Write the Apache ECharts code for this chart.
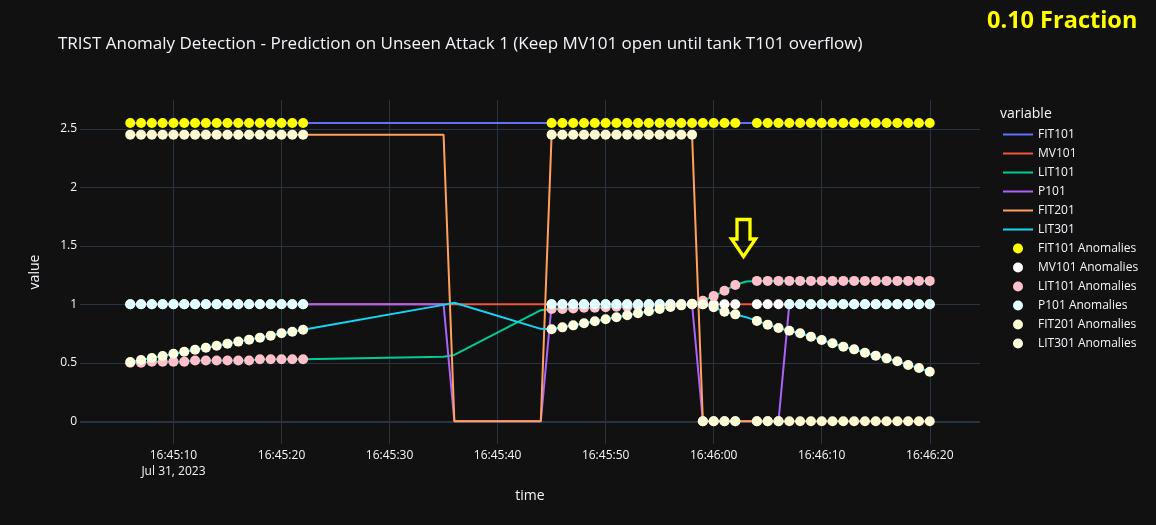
<!DOCTYPE html>
<html>
<head>
<meta charset="utf-8">
<script src="https://cdn.jsdelivr.net/npm/echarts@6/dist/echarts.min.js"></script>
<style>
html,body{margin:0;padding:0;background:#111111;}
#chart{width:1156px;height:525px;}
</style>
</head>
<body>
<div id="chart"></div>
<script>
// seconds after 16:45:00 on Jul 31, 2023
const times = [6,7,8,9,10,11,12,13,14,15,16,17,18,19,20,21,22,
  35,36,44,
  45,46,47,48,49,50,51,52,53,54,55,56,57,58,59,60,61,62,63,64,65,66,67,68,69,70,71,72,73,74,75,76,77,78,79,80];

const FIT101 = [2.55,2.55,2.55,2.55,2.55,2.55,2.55,2.55,2.55,2.55,2.55,2.55,2.55,2.55,2.55,2.55,2.55,
  2.55,2.55,2.55,
  2.55,2.55,2.55,2.55,2.55,2.55,2.55,2.55,2.55,2.55,2.55,2.55,2.55,2.55,2.55,2.55,2.55,2.55,2.55,2.55,2.55,2.55,2.55,2.55,2.55,2.55,2.55,2.55,2.55,2.55,2.55,2.55,2.55,2.55,2.55,2.55];

const MV101 = [1,1,1,1,1,1,1,1,1,1,1,1,1,1,1,1,1,
  1,1,1,
  1,1,1,1,1,1,1,1,1,1,1,1,1,1,1,1,1,1,1,1,1,1,1,1,1,1,1,1,1,1,1,1,1,1,1,1];

const LIT101 = [0.50,0.50,0.51,0.51,0.51,0.51,0.52,0.52,0.52,0.52,0.52,0.52,0.53,0.53,0.53,0.53,0.53,
  0.552,0.567,0.95,
  0.96,0.96,0.965,0.97,0.97,0.975,0.98,0.98,0.985,0.99,0.99,0.995,1.0,1.005,
  1.03,1.07,1.115,1.165,1.195,
  1.2,1.2,1.2,1.2,1.2,1.2,1.2,1.2,1.2,1.2,1.2,1.2,1.2,1.2,1.2,1.2,1.2];

const P101 = [1,1,1,1,1,1,1,1,1,1,1,1,1,1,1,1,1,
  1,0,0,
  1,1,1,1,1,1,1,1,1,1,1,1,1,1,
  0,0,0,0,0,0,0,0,
  1,1,1,1,1,1,1,1,1,1,1,1,1,1];

const FIT201 = [2.45,2.45,2.45,2.45,2.45,2.45,2.45,2.45,2.45,2.45,2.45,2.45,2.45,2.45,2.45,2.45,2.45,
  2.45,0,0,
  2.45,2.45,2.45,2.45,2.45,2.45,2.45,2.45,2.45,2.45,2.45,2.45,2.45,2.45,
  0,0,0,0,0,0,0,0,0,0,0,0,0,0,0,0,0,0,0,0,0,0];

const LIT301 = [0.507,0.524,0.541,0.558,0.578,0.595,0.612,0.629,0.646,0.663,0.681,0.698,0.715,0.732,0.752,0.766,0.783,
  0.995,1.013,0.79,
  0.786,0.803,0.82,0.838,0.855,0.872,0.889,0.906,0.923,0.94,0.96,0.977,0.991,1.003,
  1.0,0.974,0.937,0.914,0.89,
  0.858,0.826,0.797,0.774,0.752,0.723,0.695,0.667,0.638,0.615,0.586,0.561,0.538,0.513,0.481,0.456,0.424];

// times (seconds after 16:45:00) flagged as anomalies
const anomalyTimes = [6,7,8,9,10,11,12,13,14,15,16,17,18,19,20,21,22,
  45,46,47,48,49,50,51,52,53,54,55,56,57,58,59,60,61,62,
  64,65,66,67,68,69,70,71,72,73,74,75,76,77,78,79,80];

const xTickSeconds = [10,20,30,40,50,60,70,80];
const yTicks = [0,0.5,1,1.5,2,2.5];

const seriesNames = ['FIT101','MV101','LIT101','P101','FIT201','LIT301'];
const seriesValues = [FIT101,MV101,LIT101,P101,FIT201,LIT301];
const lineColors = ['#636efa','#EF553B','#00cc96','#ab63fa','#FFA15A','#19d3f3'];
const anomalyColors = ['#ffff00','#ffffff','#ffc0cb','#e0ffff','#fafad2','#ffffe0'];

const base = new Date(2023, 6, 31, 16, 45, 0).getTime();
const ts = s => base + s * 1000;

const series = [];
const legendData = [];
seriesNames.forEach((n, i) => {
  const s = {
    name: n, type: 'line', showSymbol: false, symbol: 'none',
    data: times.map((t, k) => [ts(t), seriesValues[i][k]]),
    lineStyle: {color: lineColors[i], width: 2},
    itemStyle: {color: lineColors[i]},
    z: 2
  };
  if (i === 0) {
    s.markLine = {
      silent: true, symbol: 'none', label: {show: false},
      lineStyle: {color: '#283442', width: 2, type: 'solid'},
      data: [{yAxis: 0}], z: 1
    };
  }
  series.push(s);
  legendData.push({name: n, icon: 'path://M0,0L30,0L30,2L0,2Z', itemStyle: {color: lineColors[i]}});
});
seriesNames.forEach((n, i) => {
  series.push({
    name: n + ' Anomalies', type: 'scatter', symbol: 'circle', symbolSize: 10,
    data: anomalyTimes.map(t => [ts(t), seriesValues[i][times.indexOf(t)]]),
    itemStyle: {color: anomalyColors[i], opacity: 1},
    z: 3
  });
  legendData.push({name: n + ' Anomalies', icon: 'circle'});
});

const pad = n => (n < 10 ? '0' : '') + n;
const chart = echarts.init(document.getElementById('chart'), null, {renderer: 'canvas'});
chart.setOption({
  backgroundColor: '#111111',
  animation: false,
  textStyle: {fontFamily: 'Open Sans'},
  title: {
    text: 'TRIST Anomaly Detection - Prediction on Unseen Attack 1 (Keep MV101 open until tank T101 overflow)',
    left: 58, top: 33, padding: 0,
    textStyle: {color: '#f2f5fa', fontSize: 17, fontWeight: 'normal', fontFamily: 'Open Sans', lineHeight: 22}
  },
  grid: {left: 80, right: 176, top: 100, bottom: 81, containLabel: false},
  legend: {
    orient: 'vertical', left: 1003, top: 128.5, padding: 0,
    itemWidth: 30, itemHeight: 10, itemGap: 7,
    textStyle: {color: '#f2f5fa', fontSize: 12, fontFamily: 'Open Sans'},
    data: legendData
  },
  xAxis: {
    type: 'value',
    min: ts(1.35), max: ts(84.65),
    name: 'time', nameLocation: 'middle', nameGap: 45,
    nameTextStyle: {color: '#f2f5fa', fontSize: 14, fontFamily: 'Open Sans'},
    axisLine: {show: false},
    axisTick: {show: false, customValues: xTickSeconds.map(ts)},
    axisLabel: {
      customValues: xTickSeconds.map(ts),
      color: '#f2f5fa', fontSize: 12, fontFamily: 'Open Sans', lineHeight: 16, margin: 4,
      formatter: function (v) {
        const d = new Date(v);
        const s = pad(d.getHours()) + ':' + pad(d.getMinutes()) + ':' + pad(d.getSeconds());
        return v === ts(xTickSeconds[0]) ? s + '\nJul 31, 2023' : s;
      }
    },
    splitLine: {show: true, lineStyle: {color: '#283442', width: 1}}
  },
  yAxis: {
    type: 'value',
    min: -0.194, max: 2.746,
    name: 'value', nameLocation: 'middle', nameGap: 38,
    nameTextStyle: {color: '#f2f5fa', fontSize: 14, fontFamily: 'Open Sans'},
    axisLine: {show: false},
    axisTick: {show: false, customValues: yTicks},
    axisLabel: {customValues: yTicks, color: '#f2f5fa', fontSize: 12, fontFamily: 'Open Sans', margin: 3},
    splitLine: {show: true, lineStyle: {color: '#283442', width: 1}}
  },
  graphic: [
    {type: 'text', left: 1000, top: 107, style: {text: 'variable', fill: '#f2f5fa', font: '14px "Open Sans"'}},
    {type: 'text', left: 987, top: 9, style: {text: '0.10 Fraction', fill: '#ffff00', font: 'bold 23.5px "Open Sans"'}},
    {type: 'polygon', shape: {points: [[737,219.5],[750,219.5],[750,239],[755.5,239],[743.5,256.5],[731.5,239],[737,239]]},
     style: {fill: 'none', stroke: '#ffff00', lineWidth: 3.3, lineJoin: 'miter'}, z: 10}
  ],
  series: series
});
</script>
</body>
</html>
